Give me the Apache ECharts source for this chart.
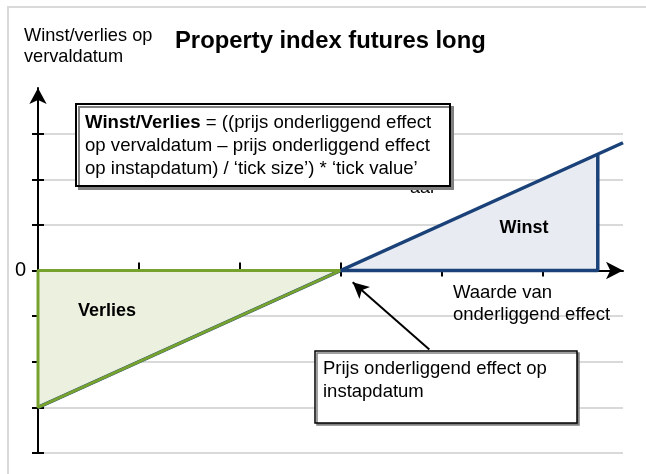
<!DOCTYPE html>
<html>
<head>
<meta charset="utf-8">
<script src="https://cdn.jsdelivr.net/npm/echarts@6/dist/echarts.min.js"></script>
<style>
  html, body { margin: 0; padding: 0; background: #fff; }
  #chart { width: 646px; height: 474px; }
</style>
</head>
<body>
<div id="chart"></div>
<script>
// ── Data ──────────────────────────────────────────────
const xRange = [0, 5.8]          // waarde onderliggend effect
const yRange = [-4, 4]           // winst/verlies
const xTickValues = [1, 2, 3, 4, 5]
const yTickValues = [-4, -3, -2, -1, 0, 1, 2, 3]

const payoffLine     = [[0, -3], [5.8, 2.8]]
const verliesArea    = [[0, -3], [3, 0]]
const winstArea      = [[3, 0], [5.55, 2.55]]
const verliesOutline = [[3, 0], [0, 0], [0, -3], [3, 0]]
const winstOutline   = [[3, 0], [5.55, 0], [5.55, 2.55]]
const calloutArrow   = [[3.88, -1.73], [3.12, -0.26]]

const FONT  = 'Liberation Sans, Arial, sans-serif'
const GREEN = '#77a22d'
const BLUE  = '#1a4279'

const chart = echarts.init(document.getElementById('chart'))

const baseAxis = {
  type: 'value',
  axisLabel: { show: false },
  splitLine: { show: false },
}

chart.setOption({
  animation: false,
  backgroundColor: '#fff',
  grid: { left: 38, right: 23, top: 88, bottom: 21, outerBoundsMode: 'none' },
  xAxis: [
    {
      ...baseAxis,
      position: 'bottom',
      min: xRange[0], max: xRange[1], interval: 1,
      axisLine: {
        show: true, onZero: true, onZeroAxisIndex: 0,
        symbol: ['none', 'arrow'], symbolSize: [13, 17],
        lineStyle: { color: '#000', width: 2 },
      },
      axisTick: { show: true, length: 6, inside: false, customValues: xTickValues,
        lineStyle: { color: '#000', width: 2 } },
    },
    {
      ...baseAxis,
      position: 'bottom',
      min: xRange[0], max: xRange[1], interval: 1,
      axisLine: { show: false, onZero: true, onZeroAxisIndex: 0 },
      axisTick: { show: true, length: 8, inside: true, customValues: xTickValues,
        lineStyle: { color: '#000', width: 2 } },
    },
  ],
  yAxis: [
    {
      ...baseAxis,
      position: 'left',
      min: yRange[0], max: yRange[1], interval: 1,
      axisLine: {
        show: true, onZero: false,
        symbol: ['none', 'arrow'], symbolSize: [13, 16],
        lineStyle: { color: '#000', width: 2 },
      },
      axisTick: { show: true, length: 6, inside: false, customValues: yTickValues,
        lineStyle: { color: '#000', width: 2 } },
      axisLabel: {
        show: true, margin: 12, fontSize: 20, color: '#000', fontFamily: FONT,
        padding: [0, 0, 10, 0],
        formatter: v => (v === 0 ? '0' : ''),
      },
      splitLine: { show: true, lineStyle: { color: '#d9d9d9', width: 2 } },
    },
    {
      ...baseAxis,
      position: 'left',
      min: yRange[0], max: yRange[1], interval: 1,
      axisLine: { show: false, onZero: false },
      axisTick: { show: true, length: 6, inside: true, customValues: yTickValues,
        lineStyle: { color: '#000', width: 2 } },
    },
  ],
  series: [
    {
      name: 'verlies-vlak', type: 'line', data: verliesArea,
      symbol: 'none', lineStyle: { width: 0 },
      areaStyle: { color: '#ebf1de', opacity: 1 }, z: 2, silent: true,
    },
    {
      name: 'winst-vlak', type: 'line', data: winstArea,
      symbol: 'none', lineStyle: { width: 0 },
      areaStyle: { color: '#e8ebf2', opacity: 1 }, z: 2, silent: true,
    },
    {
      name: 'payoff', type: 'line', data: payoffLine, clip: false,
      symbol: 'none', lineStyle: { color: BLUE, width: 3.5 }, z: 3, silent: true,
      markLine: {
        silent: true, symbol: ['none', 'arrow'], symbolSize: [12, 16],
        label: { show: false },
        lineStyle: { color: '#000', width: 2, type: 'solid' },
        emphasis: { disabled: true },
        data: [[{ coord: calloutArrow[0] }, { coord: calloutArrow[1] }]],
      },
    },
    {
      name: 'verlies-rand', type: 'line', data: verliesOutline,
      symbol: 'none', lineStyle: { color: GREEN, width: 3 }, z: 4, silent: true,
    },
    {
      name: 'winst-rand', type: 'line', data: winstOutline,
      symbol: 'none', lineStyle: { color: BLUE, width: 3.5 }, z: 4, silent: true,
    },
  ],
  graphic: [
    // kader rond de figuur
    { type: 'rect', z: -10, silent: true,
      shape: { x: 8, y: 7, width: 700, height: 600 },
      style: { fill: 'none', stroke: '#d9d9d9', lineWidth: 2 } },
    { type: 'text', x: 24, y: 25, silent: true,
      style: { text: 'Winst/verlies op\nvervaldatum', font: `18.2px ${FONT}`,
        fill: '#000', lineHeight: 21, verticalAlign: 'top' } },
    { type: 'text', x: 175, y: 41, silent: true,
      style: { text: 'Property index futures long', font: `bold 23.8px ${FONT}`,
        fill: '#000', verticalAlign: 'middle' } },
    // restant van tekst achter formulekader
    { type: 'text', x: 410, y: 179, z: 50, silent: true,
      style: { text: 'aar', font: `18px ${FONT}`, fill: '#000', verticalAlign: 'top' } },
    // formulekader
    { type: 'rect', z: 60, silent: true,
      shape: { x: 76, y: 104, width: 374, height: 82 },
      style: { fill: '#fff', stroke: '#000', lineWidth: 2,
        shadowColor: '#808080', shadowOffsetX: 3, shadowOffsetY: 3, shadowBlur: 0 } },
    { type: 'text', x: 85, y: 111.5, z: 61, silent: true,
      style: {
        text: '{b|Winst/Verlies} = ((prijs onderliggend effect\nop vervaldatum – prijs onderliggend effect\nop instapdatum) / ‘tick size’) * ‘tick value’',
        font: `18.6px ${FONT}`, fill: '#000', lineHeight: 23, verticalAlign: 'top',
        rich: { b: { font: `bold 18.6px ${FONT}`, fill: '#000', lineHeight: 23 } },
      } },
    { type: 'text', x: 524, y: 228, z: 61, silent: true,
      style: { text: 'Winst', font: `bold 18px ${FONT}`, fill: '#000',
        align: 'center', verticalAlign: 'middle' } },
    { type: 'text', x: 78, y: 311, z: 61, silent: true,
      style: { text: 'Verlies', font: `bold 18px ${FONT}`, fill: '#000',
        verticalAlign: 'middle' } },
    { type: 'text', x: 453, y: 282, z: 61, silent: true,
      style: { text: 'Waarde van\nonderliggend effect', font: `18.5px ${FONT}`,
        fill: '#000', lineHeight: 22, verticalAlign: 'top' } },
    // toelichtingskader
    { type: 'rect', z: 60, silent: true,
      shape: { x: 315, y: 351, width: 262, height: 72 },
      style: { fill: '#fff', stroke: '#000', lineWidth: 1.5,
        shadowColor: '#808080', shadowOffsetX: 2, shadowOffsetY: 2, shadowBlur: 0 } },
    { type: 'text', x: 323, y: 357.5, z: 61, silent: true,
      style: { text: 'Prijs onderliggend effect op\ninstapdatum', font: `18.5px ${FONT}`,
        fill: '#000', lineHeight: 23, verticalAlign: 'top' } },
  ],
})
</script>
</body>
</html>
